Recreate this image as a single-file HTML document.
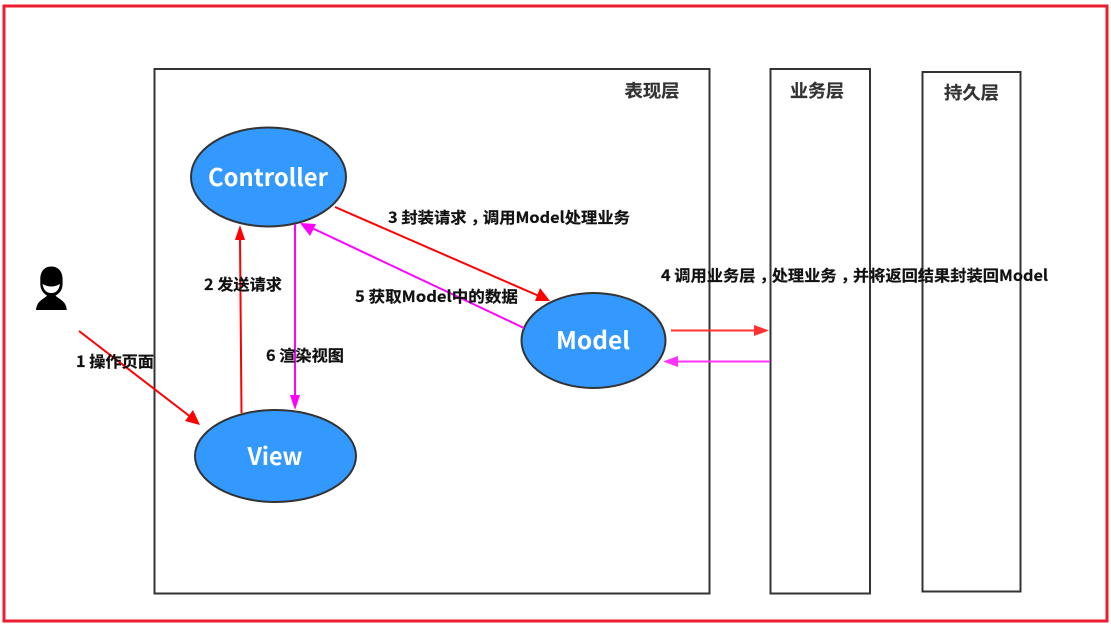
<!DOCTYPE html>
<html><head><meta charset="utf-8"><style>
html,body{margin:0;padding:0;background:#fff;width:1111px;height:627px;overflow:hidden}
svg{display:block}
text{font-weight:700;font-family:"Noto Sans CJK SC","Liberation Sans",sans-serif}
.k{font-size:15.500px;fill:#111;stroke:#111;stroke-width:.2px}
.h{font-size:17.500px;fill:#333;stroke:#333;stroke-width:.2px}
.w{font-size:24px;fill:#fff;text-anchor:middle}
</style></head><body>
<svg width="1111" height="627" viewBox="0 0 1111 627" xmlns="http://www.w3.org/2000/svg">
<rect x="4" y="6" width="1103" height="615" fill="none" stroke="#ed1c2e" stroke-width="3"/>
<g fill="#fff" stroke="#333" stroke-width="2">
<rect x="154.500" y="69" width="555" height="524.500"/>
<rect x="770.500" y="69" width="99.500" height="524.500"/>
<rect x="922.500" y="72" width="98" height="519.500"/>
</g>
<text class="h" x="624.500" y="97" textLength="55" lengthAdjust="spacingAndGlyphs">表现层</text>
<text class="h" x="790" y="97" textLength="54" lengthAdjust="spacingAndGlyphs">业务层</text>
<text class="h" x="944" y="99" textLength="55" lengthAdjust="spacingAndGlyphs">持久层</text>
<g fill="#3399ff" stroke="#333" stroke-width="2">
<ellipse cx="268.500" cy="177" rx="77.500" ry="49.500"/>
<ellipse cx="275.500" cy="456" rx="80.500" ry="46"/>
<ellipse cx="593.500" cy="340.500" rx="72" ry="47.500"/>
</g>
<text class="w" x="268" y="186" textLength="120" lengthAdjust="spacingAndGlyphs">Controller</text>
<text class="w" x="275" y="465" textLength="55" lengthAdjust="spacingAndGlyphs">View</text>
<text class="w" x="593" y="349" textLength="74" lengthAdjust="spacingAndGlyphs">Model</text>
<!-- person -->
<path d="M51.300 266.500C44 266.500 40.300 272 40.300 279V284C40.300 290 44 294 47 295.500C44.500 299 37 300 36 310H66.800C66 300 58 299 55.500 295.500C59 294 62.600 290 62.600 284V279C62.600 272 58.600 266.500 51.300 266.500Z" fill="#000"/>
<path d="M42.500 284Q51.300 289 60 284Q58.500 293 51.300 293Q44 293 42.500 284Z" fill="#fff"/>
<!-- connectors -->
<g fill="none" stroke-width="2">
<line x1="79" y1="331" x2="192" y2="418" stroke="#ff0000"/>
<line x1="241.500" y1="413" x2="240" y2="238" stroke="#ff0000"/>
<line x1="295" y1="224" x2="295" y2="397" stroke="#ff00ff"/>
<line x1="335" y1="207" x2="539" y2="296" stroke="#ff0000"/>
<line x1="524" y1="328" x2="312" y2="228" stroke="#ff00ff"/>
<line x1="671" y1="330.500" x2="756" y2="330.500" stroke="#ff3333"/>
<line x1="770" y1="361.500" x2="675" y2="361.500" stroke="#ff33ff"/>
</g>
<polygon points="200,425 185,421 193,410" fill="#ff0000"/>
<polygon points="240,225 235,240 245,240" fill="#ff0000"/>
<polygon points="295,410 290,395 300,395" fill="#ff00ff"/>
<polygon points="550,301 535,301 540,288" fill="#ff0000"/>
<polygon points="300,223 316,224 310,236" fill="#ff00ff"/>
<polygon points="769,330.500 754,325 754,336" fill="#ff3333"/>
<polygon points="663,361.500 678,356 678,367" fill="#ff33ff"/>
<!-- labels -->
<text class="k" x="76" y="367" textLength="78" lengthAdjust="spacingAndGlyphs">1 操作页面</text>
<text class="k" x="204" y="290" textLength="78" lengthAdjust="spacingAndGlyphs">2 发送请求</text>
<text class="k" x="388" y="223" textLength="242" lengthAdjust="spacingAndGlyphs">3 封装请求<tspan dx="4">，</tspan><tspan dx="-4">调用Model处理业务</tspan></text>
<text class="k" x="661" y="281" textLength="387" lengthAdjust="spacingAndGlyphs">4 调用业务层<tspan dx="4">，</tspan><tspan dx="-4">处理业务</tspan><tspan dx="4">，</tspan><tspan dx="-4">并将返回结果封装回Model</tspan></text>
<text class="k" x="355" y="302" textLength="163" lengthAdjust="spacingAndGlyphs">5 获取Model中的数据</text>
<text class="k" x="266" y="361" textLength="78" lengthAdjust="spacingAndGlyphs">6 渲染视图</text>
</svg>
</body></html>
